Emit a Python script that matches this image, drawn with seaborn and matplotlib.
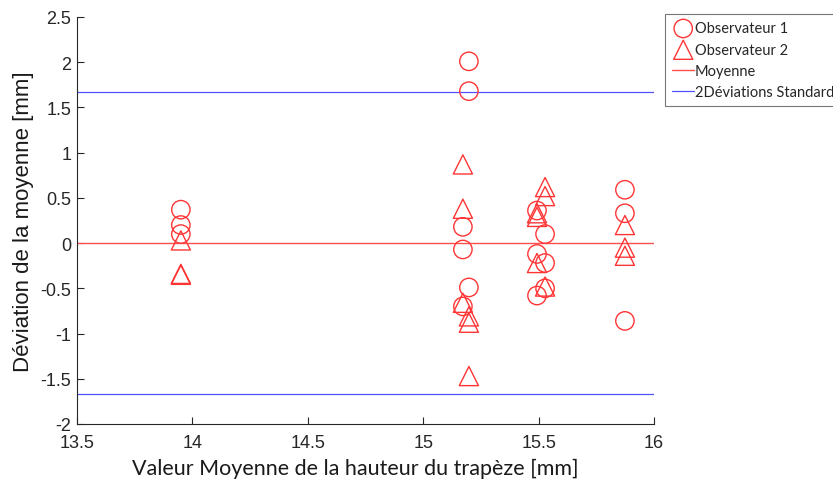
import matplotlib
matplotlib.use("Agg")
import matplotlib.pyplot as plt
import seaborn as sns
import pandas as pd

# Observateur 1 (circles)
obs1_x = [13.95, 13.95, 13.95,
          15.198, 15.198, 15.172, 15.172, 15.198, 15.172,
          15.493, 15.528, 15.493, 15.528, 15.528, 15.493,
          15.874, 15.874, 15.874]
obs1_y = [0.37, 0.20, 0.10,
          2.01, 1.68, 0.18, -0.07, -0.49, -0.70,
          0.36, 0.10, -0.12, -0.22, -0.50, -0.58,
          0.59, 0.33, -0.86]

# Observateur 2 (triangles)
obs2_x = [13.95, 13.95, 13.95,
          15.172, 15.172, 15.172, 15.198, 15.198, 15.198,
          15.528, 15.528, 15.493, 15.493, 15.493, 15.528,
          15.874, 15.874, 15.874]
obs2_y = [0.03, -0.34, -0.35,
          0.87, 0.38, -0.66, -0.81, -0.88, -1.47,
          0.62, 0.52, 0.33, 0.29, -0.22, -0.48,
          0.20, -0.05, -0.14]

mean_value = 0.0
sd2_value = 1.67

xticks = [13.5, 14, 14.5, 15, 15.5, 16]
yticks = [-2, -1.5, -1, -0.5, 0, 0.5, 1, 1.5, 2, 2.5]

sns.set_style("white")
plt.rcParams['font.family'] = ['Liberation Sans', 'DejaVu Sans']

fig = plt.figure(figsize=(8.33, 4.85), dpi=100)
ax = fig.add_axes([77/833, 1-425/485, (654-77)/833, (425-18)/485])

df1 = pd.DataFrame({"x": obs1_x, "y": obs1_y})
df2 = pd.DataFrame({"x": obs2_x, "y": obs2_y})

sns.scatterplot(data=df1, x="x", y="y", marker="o", s=175, fc="none",
                ec="#ff3535", linewidth=1.0, ax=ax, label="Observateur 1", zorder=3)
sns.scatterplot(data=df2, x="x", y="y", marker="^", s=190, fc="none",
                ec="#ff3535", linewidth=1.0, ax=ax, label="Observateur 2", zorder=3)

ax.axhline(mean_value, color="#ff5050", lw=1.0, label="Moyenne", zorder=2)
ax.axhline(sd2_value, color="#5050ff", lw=0.9, label="2Déviations Standard", zorder=2)
ax.axhline(-sd2_value, color="#5050ff", lw=0.9, zorder=2)

ax.set_xlim(13.5, 16)
ax.set_ylim(-2, 2.5)
ax.set_xticks(xticks)
ax.set_xticklabels([f"{t:g}" for t in xticks])
ax.set_yticks(yticks)
ax.set_yticklabels([f"{t:g}" for t in yticks])
ax.tick_params(direction="in", length=5, width=0.8, labelsize=13, colors="#262626",
               bottom=True, left=True, pad=4)
ax.tick_params(axis="x", pad=7)
for s in ["top", "right"]:
    ax.spines[s].set_visible(False)
for s in ["left", "bottom"]:
    ax.spines[s].set_color("#262626")
    ax.spines[s].set_linewidth(0.8)

ax.set_xlabel("Valeur Moyenne de la hauteur du trapèze [mm]", fontsize=15.5,
              family=["Lato", "DejaVu Sans"], color="#1a1a1a")
ax.xaxis.set_label_coords((355 - 77) / 577, -(469 - 425) / 407)
ax.xaxis.label.set_va("center")
ax.set_ylabel("Déviation de la moyenne [mm]", fontsize=16, labelpad=5, color="#1a1a1a")

leg = ax.legend(loc="upper left", bbox_to_anchor=(665/833, 1-15/485),
                bbox_transform=fig.transFigure, frameon=True, fancybox=False,
                edgecolor="#555555", prop={"family": ["Lato", "DejaVu Sans"], "size": 10.5},
                handlelength=1.5, handletextpad=0.05, borderpad=0.5, labelspacing=0.5,
                borderaxespad=0)
leg.get_frame().set_linewidth(0.8)

fig.savefig("out.png", dpi=100, facecolor="white")
